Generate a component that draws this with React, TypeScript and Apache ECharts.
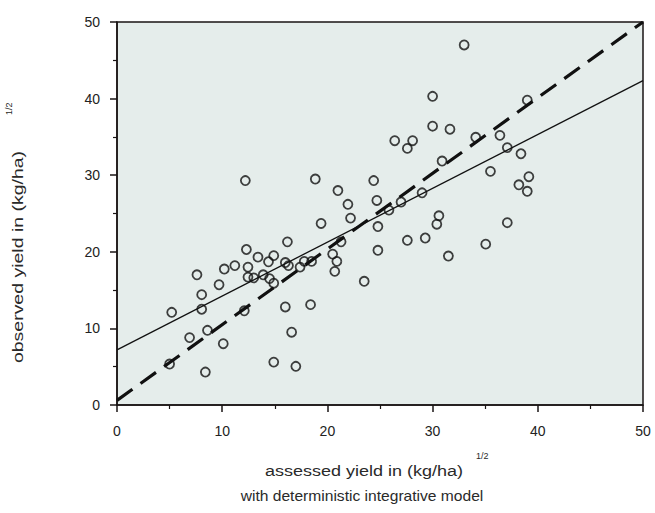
import React, { useEffect, useRef } from "react";
import * as echarts from "echarts";

const assessedX = [
  5.2, 5.0, 7.6, 8.05, 8.05, 6.9, 8.6, 8.4, 9.7, 10.1, 10.2, 11.2, 12.1, 12.3, 12.45, 12.45, 13.0, 13.4, 13.9,
  14.4, 14.5, 14.9, 14.9, 14.9, 16.0, 16.2, 16.0, 16.3, 16.6, 17.0, 17.4, 17.8, 18.5, 18.4, 19.4, 20.5, 20.9,
  20.7, 21.3, 21.95, 22.2, 23.5, 24.8, 24.8, 12.2, 18.85, 21.0, 24.4, 24.7, 33.0, 30.0, 39.0, 30.0, 31.65,
  26.4, 28.1, 27.6, 34.1, 36.4, 37.1, 38.4, 30.9, 35.5, 38.2, 39.15, 39.0, 29.0, 27.0, 25.85, 30.6, 30.4,
  27.6, 29.3, 31.5, 35.05, 37.1,
];
const observedY = [
  12.1, 5.35, 17.0, 14.4, 12.5, 8.8, 9.75, 4.3, 15.7, 8.0, 17.75, 18.2, 12.3, 20.3, 18.0, 16.7, 16.6, 19.3, 17.0,
  18.7, 16.5, 19.5, 15.9, 5.6, 12.8, 21.3, 18.6, 18.2, 9.5, 5.05, 18.0, 18.75, 18.75, 13.1, 23.7, 19.7, 18.75,
  17.45, 21.3, 26.2, 24.4, 16.15, 23.3, 20.2, 29.3, 29.5, 28.0, 29.3, 26.7, 47.0, 40.3, 39.8, 36.4, 36.0,
  34.5, 34.5, 33.5, 34.95, 35.2, 33.6, 32.8, 31.85, 30.5, 28.75, 29.8, 27.9, 27.7, 26.5, 25.45, 24.7, 23.6,
  21.5, 21.8, 19.45, 21.0, 23.8,
];
const regressionLine = [
  [0, 7.2],
  [50, 42.35],
];
const oneToOneLine = [
  [0, 0.6],
  [50, 50],
];
const axisTicks = [0, 10, 20, 30, 40, 50];

const FONT = "'Liberation Sans', Arial, Helvetica, sans-serif";

export default function App() {
  const ref = useRef<HTMLDivElement>(null);
  useEffect(() => {
    if (!ref.current) return;
    const chart = echarts.init(ref.current, undefined, { renderer: "svg" });
    const points = assessedX.map((x, i) => [x, observedY[i]]);
    const axisCommon = {
      type: "value" as const,
      min: axisTicks[0],
      max: axisTicks[axisTicks.length - 1],
      interval: axisTicks[1] - axisTicks[0],
      axisLine: { show: true, lineStyle: { color: "#1a1414", width: 1.5 } },
      axisTick: { show: true, length: 7, lineStyle: { color: "#1a1414", width: 1.5 } },
      minorTick: { show: true, splitNumber: 2, length: 4, lineStyle: { color: "#1a1414", width: 1.2 } },
      splitLine: { show: false },
      minorSplitLine: { show: false },
      axisLabel: { fontSize: 14, color: "#222", fontFamily: FONT },
    };
    const textStyle = {
      fontFamily: FONT,
      fill: "#2a2a2a",
      verticalAlign: "middle",
    };
    chart.setOption({
      animation: false,
      backgroundColor: "#ffffff",
      grid: {
        left: 117,
        top: 22,
        width: 526,
        height: 383,
        show: true,
        backgroundColor: "#e5edeb",
        borderColor: "#1a1414",
        borderWidth: 1.5,
      },
      xAxis: { ...axisCommon, axisLabel: { ...axisCommon.axisLabel, margin: 19 } },
      yAxis: { ...axisCommon, axisLabel: { ...axisCommon.axisLabel, margin: 17 } },
      series: [
        {
          type: "line",
          data: oneToOneLine,
          symbol: "none",
          lineStyle: { color: "#111", width: 3.2, type: [19, 10] },
          z: 3,
        },
        {
          type: "line",
          data: regressionLine,
          symbol: "none",
          lineStyle: { color: "#111", width: 1.3 },
          z: 3,
        },
        {
          type: "scatter",
          data: points,
          symbol: "circle",
          symbolSize: 9,
          itemStyle: { color: "rgba(0,0,0,0)", borderColor: "#111", borderWidth: 1.8 },
          z: 4,
        },
      ],
      graphic: [
        {
          type: "text",
          x: 18,
          y: 257,
          rotation: Math.PI / 2,
          scaleX: 1.3,
          style: { ...textStyle, text: "observed yield in (kg/ha)", fontSize: 15, align: "center" },
        },
        {
          type: "text",
          x: 9,
          y: 115,
          rotation: Math.PI / 2,
          style: { ...textStyle, text: "1/2", fontSize: 9, align: "left" },
        },
        {
          type: "text",
          x: 364,
          y: 471,
          scaleX: 1.2,
          style: { ...textStyle, text: "assessed yield in (kg/ha)", fontSize: 15, align: "center" },
        },
        {
          type: "text",
          x: 476,
          y: 456,
          style: { ...textStyle, text: "1/2", fontSize: 9, align: "left" },
        },
        {
          type: "text",
          x: 362,
          y: 496,
          scaleX: 1.04,
          style: { ...textStyle, text: "with deterministic integrative model", fontSize: 15, align: "center" },
        },
      ],
    });
    return () => chart.dispose();
  }, []);
  return (
    <div
      ref={ref}
      style={{ position: "fixed", left: 0, top: 0, width: 655, height: 513, background: "#fff" }}
    />
  );
}
